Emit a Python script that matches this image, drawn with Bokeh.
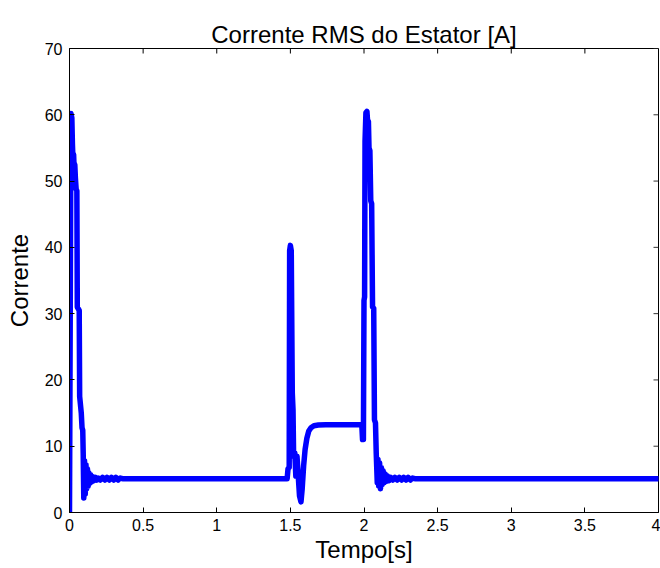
import math
from bokeh.plotting import figure
from bokeh.models import Range1d, FixedTicker, PrintfTickFormatter
from bokeh.embed import file_html
from bokeh.resources import INLINE

title_text = "Corrente RMS do Estator [A]"
x_label = "Tempo[s]"
y_label = "Corrente"
x_ticks = [0, 0.5, 1, 1.5, 2, 2.5, 3, 3.5, 4]
y_ticks = [0, 10, 20, 30, 40, 50, 60, 70]
x_min, x_max = 0, 4
y_min, y_max = 0, 70

# start-up transient
tempo_partida = [0.000, 0.010, 0.016, 0.020, 0.024, 0.028, 0.032, 0.036, 0.040, 0.045,
                 0.050, 0.053, 0.066, 0.069, 0.080, 0.085, 0.090, 0.093, 0.097, 0.102,
                 0.107, 0.112, 0.117, 0.122, 0.127, 0.132, 0.138, 0.144, 0.150, 0.158,
                 0.166, 0.175, 0.185, 0.195, 0.210, 0.225, 0.240, 0.255, 0.270, 0.285,
                 0.300, 0.315, 0.330, 0.345, 0.360]
corrente_partida = [0.0, 60.2, 59.5, 55.5, 53.0, 54.0, 51.5, 52.5, 50.5, 48.8,
                    48.5, 31.0, 30.5, 17.5, 15.0, 12.8, 12.4, 9.0, 2.2, 7.8,
                    2.8, 7.2, 3.6, 6.6, 4.0, 6.0, 4.4, 5.7, 4.6, 5.4,
                    4.8, 5.3, 4.9, 5.2, 4.9, 5.3, 4.9, 5.3, 4.9, 5.3,
                    4.9, 5.3, 4.9, 5.2, 5.1]

# load step near 1.5 s
tempo_carga = [1.478, 1.484, 1.492, 1.495, 1.500, 1.506, 1.513, 1.518, 1.522, 1.530,
               1.537, 1.545, 1.552, 1.562, 1.572, 1.580, 1.590, 1.600, 1.612, 1.625,
               1.640, 1.660, 1.690, 1.740, 1.985]
corrente_carga = [5.1, 6.6, 6.8, 39.5, 40.3, 39.5, 18.0, 15.5, 8.5, 9.0,
                  5.5, 8.5, 6.0, 2.5, 1.6, 3.5, 7.0, 9.5, 11.2, 12.3,
                  12.8, 13.1, 13.2, 13.25, 13.25]

# transient at 2 s
tempo_2s = [1.990, 1.996, 2.000, 2.004, 2.007, 2.013, 2.020, 2.026, 2.030, 2.034,
            2.040, 2.046, 2.052, 2.058, 2.066, 2.071, 2.078, 2.083, 2.090, 2.095,
            2.100, 2.106, 2.112, 2.118, 2.124, 2.130, 2.137, 2.144, 2.152, 2.160,
            2.170, 2.180, 2.195, 2.210, 2.225, 2.240, 2.255, 2.270, 2.285, 2.300,
            2.315, 2.330, 2.345, 4.000]
corrente_2s = [11.0, 11.0, 32.0, 32.5, 56.0, 60.3, 60.5, 58.5, 59.0, 55.0,
               54.6, 47.0, 46.6, 31.0, 30.8, 14.0, 13.5, 9.0, 4.5, 8.0,
               4.0, 7.5, 3.6, 6.8, 4.2, 6.3, 4.5, 5.8, 4.7, 5.5,
               4.8, 5.3, 4.9, 5.3, 4.9, 5.3, 4.9, 5.3, 4.9, 5.3,
               4.9, 5.2, 5.1, 5.1]

tempo = tempo_partida + tempo_carga + tempo_2s
corrente = corrente_partida + corrente_carga + corrente_2s

FONT = "Liberation Sans"

p = figure(width=660, height=568, x_range=Range1d(x_min, x_max), y_range=Range1d(y_min, y_max),
           output_backend="svg", toolbar_location=None, title=title_text,
           min_border_left=69, min_border_right=2, min_border_top=48, min_border_bottom=56)

p.title.text_font = FONT
p.title.text_font_size = "24px"
p.title.text_font_style = "normal"
p.title.align = "center"
p.title.standoff = 2
p.title.text_color = "black"

p.xgrid.visible = False
p.ygrid.visible = False
p.outline_line_color = "black"
p.outline_line_width = 1
p.background_fill_color = "white"
p.border_fill_color = "white"

p.line(tempo, corrente, line_color="#0000FF", line_width=5.5,
       line_join="round", line_cap="round")

# mirrored inward ticks on top and right edges of the frame
p.ray(x=x_ticks, y=[y_max] * len(x_ticks), length=5, length_units="screen",
      angle=-math.pi / 2, line_color="black", line_width=1)
p.ray(x=[x_max] * len(y_ticks), y=y_ticks, length=5, length_units="screen",
      angle=math.pi, line_color="#333333", line_width=1)

xa = p.below[0]
ya = p.left[0]
xa.ticker = FixedTicker(ticks=x_ticks)
ya.ticker = FixedTicker(ticks=y_ticks)
for ax in (xa, ya):
    ax.formatter = PrintfTickFormatter(format="%g")
    ax.major_tick_in = 5
    ax.major_tick_out = 0
    ax.minor_tick_in = 0
    ax.minor_tick_out = 0
    ax.major_label_text_font = FONT
    ax.major_label_text_font_size = "16px"
    ax.major_label_text_color = "black"
    ax.axis_label_text_font = FONT
    ax.axis_label_text_font_size = "24px"
    ax.axis_label_text_font_style = "normal"
    ax.axis_label_text_color = "black"
    ax.axis_line_color = "black"
    ax.major_tick_line_color = "black"
xa.axis_label = x_label
ya.axis_label = y_label
xa.major_label_standoff = 6
ya.major_label_standoff = 7
xa.axis_label_standoff = 2
ya.axis_label_standoff = 9

open("out.html", "w").write(file_html(p, INLINE))
